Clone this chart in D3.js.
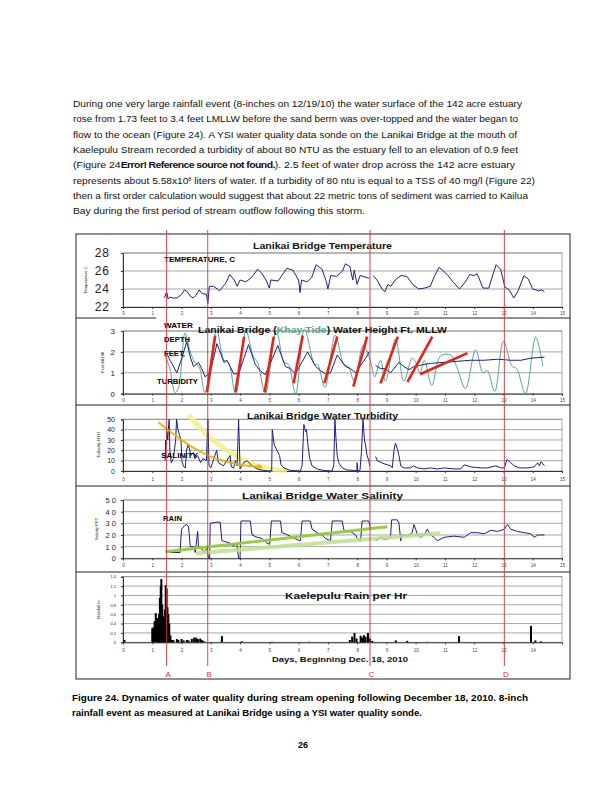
<!DOCTYPE html>
<html><head><meta charset="utf-8">
<script src="https://cdn.jsdelivr.net/npm/d3@7"></script>
<style>body{margin:0;background:#fff}svg{display:block}</style>
</head><body>
<script>
// ---------------- DATA ----------------
const paragraph = [
  [["During one very large rainfall event (8-inches on 12/19/10) the water surface of the 142 acre estuary",0]],
  [["rose from 1.73 feet to 3.4 feet LMLLW before the sand berm was over-topped and the water began to",0]],
  [["flow to the ocean (Figure 24).  A YSI water quality data sonde on the Lanikai Bridge at the mouth of",0]],
  [["Kaelepulu Stream recorded a turbidity of about 80 NTU as the estuary fell to an elevation of 0.9 feet",0]],
  [["(Figure 24",0],["Error! Reference source not found.",1],[").    2.5 feet of water drop across the 142 acre estuary",0]],
  [["represents about 5.58x10",0],["8",2],[" liters of water.  If a turbidity of 80 ntu is equal to a TSS of 40 mg/l (Figure 22)",0]],
  [["then a first order calculation would suggest that about 22 metric tons of sediment was carried to Kailua",0]],
  [["Bay during the first period of stream outflow following this storm.",0]]
];
const caption = [
  "Figure 24. Dynamics of water quality during stream opening following December 18, 2010.  8-inch",
  "rainfall event as measured at Lanikai Bridge using a YSI water quality sonde."
];
const pageNumber = "26";
const xTicks = d3.range(0, 16);
const rainXTicks = d3.range(0, 15);
const tempTicks = [22, 24, 26, 28];
const waterTicks = [0, 1, 2, 3];
const turbTicks = [0, 10, 20, 30, 40, 50];
const salTicks = [0, 10, 20, 30, 40, 50];
const rainTicks = [0, 0.2, 0.4, 0.6, 0.8, 1, 1.2, 1.4];
const markerDays = [["A",1.49],["B",2.895],["C",8.44],["D",13.03]];

const temperature = [[1.42,23.0],[1.46,23.5],[1.5,23.6],[1.54,22.9],[1.6,23.1],[1.7,23.0],[1.85,23.0],[2.0,23.4],[2.1,23.9],[2.2,23.7],[2.3,23.2],[2.4,23.0],[2.5,23.3],[2.6,23.9],[2.7,23.5],[2.85,23.4],[2.9,22.4],[2.95,24.3],[3.1,24.3],[3.3,23.8],[3.5,24.6],[3.65,25.6],[3.8,25.0],[3.9,24.3],[4.0,25.0],[4.2,24.8],[4.4,25.3],[4.6,26.2],[4.75,25.7],[4.9,24.9],[5.0,24.1],[5.05,25.0],[5.3,24.9],[5.6,26.3],[5.8,26.1],[6.0,25.0],[6.05,23.6],[6.1,25.0],[6.3,24.8],[6.45,25.3],[6.6,26.7],[6.8,26.2],[6.95,24.8],[7.0,24.0],[7.1,25.5],[7.3,25.4],[7.5,26.0],[7.6,26.8],[7.75,26.5],[7.85,25.0],[7.9,26.1],[8.0,24.5],[8.1,25.5],[8.3,25.3],[8.42,25.2],null,[8.55,25.5],[8.7,24.9],[8.85,24.0],[8.95,23.7],[9.05,24.5],[9.15,24.3],[9.3,25.0],[9.5,25.5],[9.7,25.4],[9.9,24.5],[10.1,24.0],[10.3,24.1],[10.5,24.3],[10.65,25.5],[10.8,26.4],[10.95,26.0],[11.1,25.5],[11.3,24.7],[11.5,24.0],[11.7,24.8],[11.85,25.6],[12.0,25.5],[12.1,25.7],[12.2,24.9],[12.3,24.1],[12.5,24.1],[12.6,25.2],[12.75,26.7],[12.9,26.2],[13.05,24.2],[13.2,23.9],[13.35,23.0],[13.5,23.8],[13.7,25.5],[13.85,25.1],[14.0,24.0],[14.2,23.8],[14.3,23.9],[14.4,23.7]];

const waterYSI = [[1.5,1.9],[1.61,1.6],[1.84,1.0],[2.01,1.7],[2.18,2.5],[2.29,1.8],[2.41,1.3],[2.58,1.5],[2.69,1.2],[2.81,0.8],[2.87,0.9],[2.98,1.0],[3.21,2.4],[3.45,1.5],[3.55,1.6],[3.66,1.3],[3.78,0.95],[3.95,0.95],[4.29,2.35],[4.52,1.4],[4.69,1.1],[4.86,0.9],[5.29,2.3],[5.55,1.3],[5.72,1.2],[5.89,0.95],[6.31,2.0],[6.58,1.3],[6.75,1.1],[6.92,0.95],[7.09,1.0],[7.32,1.85],[7.6,1.3],[7.77,1.2],[7.95,1.0],[8.34,1.8],[8.4,2.0],null,[8.63,1.35],[8.8,1.2],[8.97,1.2],[9.14,1.0],[9.43,1.5],[9.6,1.3],[9.77,1.15],[9.94,1.3],[10.29,1.4],[10.51,1.45],[10.97,1.5],[11.43,1.55],[11.88,1.6],[12.34,1.6],[12.8,1.65],[13.25,1.6],[13.6,1.6],[13.94,1.7],[14.4,1.75]];

const waterTide = [[1.45,1.8],[1.6,1.2],[1.78,0.05],[1.9,0.3],[2.12,2.9],[2.3,2.0],[2.45,1.5],[2.6,1.3],[2.8,0.05],[3.2,3.0],[3.45,1.6],[3.6,1.5],[3.85,0.0],[4.2,3.0],[4.45,1.8],[4.6,1.5],[4.86,0.0],[5.24,3.0],[5.5,1.5],[5.65,1.4],[5.9,0.0],[6.2,3.1],[6.55,1.4],[6.65,1.4],[6.9,0.3],[7.25,2.8],[7.55,1.4],[7.7,1.3],[7.9,0.6],[8.2,2.3],[8.35,2.0],[8.5,1.3],[8.6,0.8],[8.8,1.6],[8.97,0.6],[9.31,2.6],[9.6,0.6],[9.88,1.7],[10.0,1.5],[10.15,1.0],[10.3,1.6],[10.55,0.4],[10.85,1.8],[11.2,1.85],[11.4,1.3],[11.7,0.25],[12.05,2.1],[12.3,1.0],[12.45,1.1],[12.7,0.1],[13.0,2.5],[13.3,1.3],[13.45,1.2],[13.75,0.0],[14.1,2.7],[14.35,1.3]];

const waterRedStrokes = [
  [[2.87,0.07],[3.15,2.78]],[[3.84,0.07],[4.14,2.73]],[[4.84,0.07],[5.15,2.73]],
  [[5.83,0.5],[6.14,2.78]],[[6.88,0.5],[7.32,2.73]],[[7.87,0.34],[8.34,2.73]],
  [[8.8,0.5],[9.39,2.73]],[[9.72,0.57],[10.57,2.73]],[[10.15,0.93],[11.77,1.94]]
];

const turbidity = [[1.44,10],[1.46,30],[1.48,25],[1.5,38],[1.53,30],[1.56,45],[1.58,50],[1.6,20],[1.65,8],[1.72,12],[1.8,30],[1.83,50],[1.88,40],[1.93,35],[1.98,30],[2.02,8],[2.08,4],[2.13,3],[2.17,20],[2.22,25],[2.27,22],[2.32,15],[2.4,18],[2.46,12],[2.55,15],[2.65,8],[2.73,12],[2.85,10],[2.9,50],[2.94,5],[3.0,3],[3.08,10],[3.2,20],[3.26,8],[3.43,5],[3.66,15],[3.7,4],[3.78,3],[3.84,10],[3.9,5],[3.95,50],[4.0,2],[4.12,8],[4.24,10],[4.41,5],[4.58,2],[4.81,0.5],[4.98,0],[5.08,0.5],[5.1,40],[5.17,25],[5.26,20],[5.35,15],[5.4,6],[5.49,3],[5.72,0.5],[6.06,0],[6.12,5],[6.18,45],[6.24,38],[6.27,40],[6.32,25],[6.38,12],[6.46,5],[6.63,2],[6.86,0.5],[7.14,0],[7.2,5],[7.24,50],[7.28,30],[7.32,15],[7.37,8],[7.49,3],[7.66,1],[7.89,0.5],[7.99,0],[8.0,8],[8.02,0],[8.1,1],[8.15,20],[8.2,50],[8.25,30],[8.29,25],[8.34,15],[8.4,10],[8.43,5],null,[8.63,14],[8.69,10],[8.92,7],[9.15,5],[9.2,3],[9.26,20],[9.31,27],[9.37,22],[9.43,15],[9.49,5],[9.6,3],[9.83,3],[9.92,5],[10.06,3],[10.29,2],[10.51,3],[10.74,2],[10.97,3],[11.31,2],[11.54,2],[11.66,6],[11.88,4],[12.23,3],[12.46,3],[12.74,5],[12.91,3],[13.03,3],[13.12,11],[13.25,8],[13.37,5],[13.54,3],[13.82,3],[14.05,4],[14.17,8],[14.23,5],[14.28,9],[14.4,5]];

const turbArrowDark = [[1.21,47.1],[1.61,38.0],[2.07,28.4],[2.52,20.3],[2.98,13.8],[3.44,9.7],[3.89,6.5],[4.35,4.5],[4.69,3.9]];
const turbArrowLight = [[2.24,54.2],[2.64,41.3],[2.98,31.7],[3.44,22.0],[3.89,13.8],[4.35,7.5],[4.8,3.2],[5.26,1.0],[5.6,0]];

const salinity = [[1.5,5],[1.55,7],[1.61,5],[1.95,5],[2.0,25],[2.1,28],[2.18,29],[2.24,27],[2.3,10],[2.41,10],[2.47,5],[2.55,23],[2.58,10],[2.69,8],[2.8,5],[2.87,10],[2.92,0],[2.96,0],[2.98,30],[3.21,31],[3.32,31],[3.38,15],[3.55,14],[3.66,13],[3.78,10],[3.84,13],[3.89,12],[3.95,0],[4.0,0],[4.03,32],[4.35,32],[4.41,20],[4.58,18],[4.75,17],[4.92,13],[5.01,12],[5.07,32],[5.38,32],[5.43,22],[5.55,21],[5.78,18],[5.95,16],[6.06,15],[6.12,32],[6.4,32],[6.46,25],[6.63,22],[6.8,20],[6.92,17],[7.09,15],[7.15,32],[7.49,32],[7.55,24],[7.77,23],[7.95,20],[8.0,17],[8.12,15],[8.17,32],[8.4,32],[8.46,25],null,[8.63,15],[8.8,18],[8.97,16],[9.03,17],[9.14,18],[9.18,33],[9.37,33],[9.43,30],[9.49,15],[9.54,20],[9.71,19],[9.88,22],[9.94,29],[10.0,25],[10.06,20],[10.17,18],[10.29,20],[10.4,25],[10.51,20],[10.63,18],[10.74,15],[10.97,18],[11.31,19],[11.66,18],[11.88,22],[12.11,22],[12.34,21],[12.57,24],[12.8,23],[13.03,25],[13.14,29],[13.25,25],[13.48,23],[13.71,22],[13.94,21],[14.05,18],[14.17,20],[14.4,20]];

const salTrendDark = [[1.44,5.7],[9.03,27.1]];
const salTrendLight = [[2.5,4.3],[10.85,21.4]];

const rain = [[0.05,0.05],[1.0,0.3],[1.04,0.32],[1.08,0.45],[1.12,0.62],[1.16,0.52],[1.2,0.35],[1.23,0.6],[1.26,0.95],[1.29,1.2],[1.31,1.35],[1.34,0.8],[1.37,0.45],[1.4,0.55],[1.43,0.7],[1.46,1.22],[1.49,1.15],[1.52,0.75],[1.55,0.6],[1.58,0.4],[1.62,0.15],[1.67,0.05],[1.72,0.05],[1.84,0.07],[1.89,0.05],[2.0,0.07],[2.07,0.04],[2.18,0.05],[2.24,0.04],[2.35,0.07],[2.43,0.1],[2.5,0.1],[2.56,0.07],[2.64,0.08],[2.69,0.05],[2.75,0.03],[3.38,0.13],[4.06,0.02],[5.09,0.01],[6.35,0.01],[7.75,0.05],[7.83,0.12],[7.91,0.2],[7.98,0.08],[8.12,0.14],[8.17,0.1],[8.23,0.15],[8.29,0.12],[8.37,0.2],[8.44,0.08],[8.52,0.03],[9.32,0.04],[9.71,0.03],[10.4,0.01],[11.48,0.13],[13.94,0.35],[14.09,0.04],[14.28,0.02]];

// ---------------- DRAW ----------------
const FONT = "'Liberation Sans', Arial, sans-serif";
const svg = d3.select("body").append("svg").attr("width",612).attr("height",792)
  .style("font-family",FONT);
const defs = svg.append("defs");
defs.append("marker").attr("id","arrDark").attr("viewBox","0 0 10 10").attr("refX",5).attr("refY",5)
  .attr("markerWidth",3).attr("markerHeight",3).attr("orient","auto")
  .append("path").attr("d","M0,0L10,5L0,10z").attr("fill","#e2b300");

// paragraph
const lineEnds = [522,518,517,518,515,535,528,365];
paragraph.forEach((segs,i)=>{
  const t = svg.append("text").attr("x",73).attr("y",107+i*15.3).attr("font-size",9)
    .attr("fill","#111").attr("textLength",lineEnds[i]-73).attr("lengthAdjust","spacingAndGlyphs");
  segs.forEach(s=>{
    const sp = t.append("tspan").text(s[0]);
    if(s[1]===1) sp.attr("font-weight","bold").attr("letter-spacing",-0.5);
    if(s[1]===2) sp.attr("font-size",5).attr("dy",-3);
    if(s[1]===0 && segs.some(q=>q[1]===2) && s!==segs[0]) sp.attr("dy",3);
  });
});

// frame
const FL=76, FR=570, FT=234, FB=679;
const seps=[318,405,486,572];
svg.append("rect").attr("x",FL).attr("y",FT).attr("width",FR-FL).attr("height",FB-FT)
  .attr("fill","none").attr("stroke","#222").attr("stroke-width",1);
seps.forEach(s=>svg.append("line").attr("x1",FL).attr("x2",FR).attr("y1",s).attr("y2",s).attr("stroke","#222"));

const X0=123, X1=562;
const x = d3.scaleLinear().domain([0,15]).range([X0,X1]);

function panel(c){
  const y = d3.scaleLinear().domain(c.domain).range([c.bottom,c.top]);
  const g = svg.append("g");
  g.append("rect").attr("x",X0).attr("y",c.top).attr("width",X1-X0).attr("height",c.bottom-c.top)
    .attr("fill","#fff").attr("stroke","#9a9a9a").attr("stroke-width",0.8);
  g.selectAll(null).data(c.ticks.slice(1)).join("line")
    .attr("x1",X0).attr("x2",X1).attr("y1",d=>y(d)).attr("y2",d=>y(d))
    .attr("stroke","#7f7f7f").attr("stroke-width",0.7);
  const ax = g.append("g").attr("transform",`translate(0,${c.bottom})`)
    .call(d3.axisBottom(x).tickValues(c.xticks||xTicks).tickSize(2).tickPadding(c.xpad||3).tickFormat(d3.format("d")));
  ax.select(".domain").attr("stroke","#333");
  ax.selectAll("line").attr("stroke","#333");
  ax.selectAll("text").attr("font-size",4.5).attr("fill","#444").attr("font-family",FONT);
  const ay = g.append("g").attr("transform",`translate(${X0},0)`)
    .call(d3.axisLeft(y).tickValues(c.ticks).tickSize(2).tickPadding(c.ypad).tickFormat(c.fmt));
  ay.select(".domain").attr("stroke","#333");
  ay.selectAll("line").attr("stroke","#333");
  ay.selectAll("text").attr("font-size",c.ysize).attr("fill","#222").attr("font-family",FONT)
    .attr("letter-spacing",c.ls||0);
  g.append("text").attr("transform",`translate(${c.ylx},${(c.top+c.bottom)/2}) rotate(-90)`)
    .attr("text-anchor","middle").attr("font-size",4.2).attr("fill","#222").attr("font-family",FONT).text(c.ylabel);
  return {y,g};
}
function title(txt,x0,x1,yb,size){
  return svg.append("text").attr("x",x0).attr("y",yb).attr("font-size",size||8.5).attr("font-weight","bold")
    .attr("fill","#111").attr("textLength",x1-x0).attr("lengthAdjust","spacingAndGlyphs").text(txt);
}
function note(txt,x0,x1,yb){
  return svg.append("text").attr("x",x0).attr("y",yb).attr("font-size",7.5).attr("font-weight","bold")
    .attr("fill","#000").attr("textLength",x1-x0).attr("lengthAdjust","spacingAndGlyphs").text(txt);
}
const line = y => d3.line().defined(d=>d!==null).x(d=>x(d[0])).y(d=>y(d[1]));
const NAVY="#1f1f80", TEAL="#55a692", RED="#e3231c";

// 1 Temperature
const P1 = panel({top:253,bottom:307,domain:[22,28],ticks:tempTicks,fmt:d3.format("d"),ysize:12,ls:1,ypad:11,ylx:87,ylabel:"Temperature C"});
P1.g.append("path").datum(temperature).attr("d",line(P1.y)).attr("fill","none").attr("stroke",NAVY).attr("stroke-width",1);
title("Lanikai Bridge Temperature",253,392,249);
note("TEMPERATURE, C",164,235,262);

// 2 Water height
const P2 = panel({top:331,bottom:393.7,domain:[0,3],ticks:waterTicks,fmt:d3.format("d"),ysize:8,ypad:6,ylx:104,ylabel:"Feet MLLW"});
P2.g.append("path").datum(waterTide).attr("d",line(P2.y).curve(d3.curveCatmullRom)).attr("fill","none").attr("stroke",TEAL).attr("stroke-width",1);
P2.g.append("path").datum(waterYSI).attr("d",line(P2.y)).attr("fill","none").attr("stroke",NAVY).attr("stroke-width",1);
P2.g.selectAll(null).data(waterRedStrokes).join("path").attr("d",line(P2.y)).attr("stroke",RED).attr("stroke-width",2.6).attr("fill","none");
svg.append("rect").attr("x",156).attr("y",315.5).attr("width",52).attr("height",13).attr("fill","#fff");
const t2 = svg.append("text").attr("x",198).attr("y",332.5).attr("font-size",8.5).attr("font-weight","bold")
  .attr("fill","#111").attr("textLength",249).attr("lengthAdjust","spacingAndGlyphs");
t2.append("tspan").text("Lanikai Bridge (");
t2.append("tspan").attr("fill",TEAL).text("Khay Tide");
t2.append("tspan").text(") Water Height Ft. MLLW");
note("WATER",164,193,328);
note("DEPTH",164,190,342);
note("FEET,",164,185,356);
note("TURBIDITY",157,198,384);

// 3 Turbidity
const P3 = panel({top:419.3,bottom:471,domain:[0,50],ticks:turbTicks,fmt:d3.format("d"),ysize:7,ypad:6,ylx:100,ylabel:"Turbidity NTU",xpad:5});
P3.g.append("path").datum(turbArrowLight).attr("d",line(P3.y).curve(d3.curveBasis)).attr("fill","none")
  .attr("stroke","#f4ee8a").attr("stroke-width",5).attr("opacity",0.85);
P3.g.append("path").datum(turbidity).attr("d",line(P3.y)).attr("fill","none").attr("stroke",NAVY).attr("stroke-width",1);
P3.g.append("path").datum(turbArrowDark).attr("d",line(P3.y).curve(d3.curveBasis)).attr("fill","none")
  .attr("stroke","#e2b300").attr("stroke-width",2).attr("opacity",0.9).attr("marker-end","url(#arrDark)");
title("Lanikai Bridge Water Turbidity",247,398,418.5);
note("SALINITY",161,198,458);

// 4 Salinity
const P4 = panel({top:500,bottom:558.3,domain:[0,50],ticks:salTicks,fmt:d=>String(d).split("").join(" "),ysize:7.5,ypad:5,ylx:98,ylabel:"Salinity PPT",xpad:4});
P4.g.append("path").datum(salinity).attr("d",line(P4.y)).attr("fill","none").attr("stroke",NAVY).attr("stroke-width",1);
P4.g.append("path").datum(salTrendLight).attr("d",line(P4.y)).attr("stroke","#bfe08f").attr("stroke-width",4).attr("opacity",0.85);
P4.g.append("path").datum(salTrendDark).attr("d",line(P4.y)).attr("stroke","#97c83a").attr("stroke-width",3).attr("opacity",0.95);
title("Lanikai Bridge Water Salinity",242,403,498.5,9);
note("RAIN",163,182,521);

// 5 Rain
const P5 = panel({top:576.7,bottom:642.3,domain:[0,1.4],ticks:rainTicks,fmt:d=>d===0?"0":String(d),ysize:4,ypad:5,ylx:100,ylabel:"Rainfall In",xpad:5,xticks:rainXTicks});
P5.g.selectAll(null).data(rain).join("rect")
  .attr("x",d=>x(d[0])-1).attr("width",2).attr("y",d=>P5.y(d[1])).attr("height",d=>P5.y(0)-P5.y(d[1])).attr("fill","#000");
title("Kaelepulu Rain per Hr",285,407,598.5,9);
title("Days, Beginning Dec. 18, 2010",272,408,662,8);

// red marker lines
markerDays.forEach(([lab,d])=>{
  svg.append("line").attr("x1",x(d)).attr("x2",x(d)).attr("y1",230).attr("y2",666)
    .attr("stroke","#d8303a").attr("stroke-width",0.9);
  svg.append("text").attr("x",x(d)+1.5).attr("y",677).attr("text-anchor","middle")
    .attr("font-size",8).attr("fill","#d8303a").text(lab);
});

// caption
const capEnds=[528,422];
caption.forEach((c,i)=>{
  svg.append("text").attr("x",72).attr("y",701+i*14.5).attr("font-size",9).attr("font-weight","bold")
    .attr("fill","#000").attr("textLength",capEnds[i]-72).attr("lengthAdjust","spacingAndGlyphs").text(c);
});
svg.append("text").attr("x",303).attr("y",748).attr("text-anchor","middle").attr("font-size",9)
  .attr("font-weight","bold").text(pageNumber);
</script>
</body></html>
